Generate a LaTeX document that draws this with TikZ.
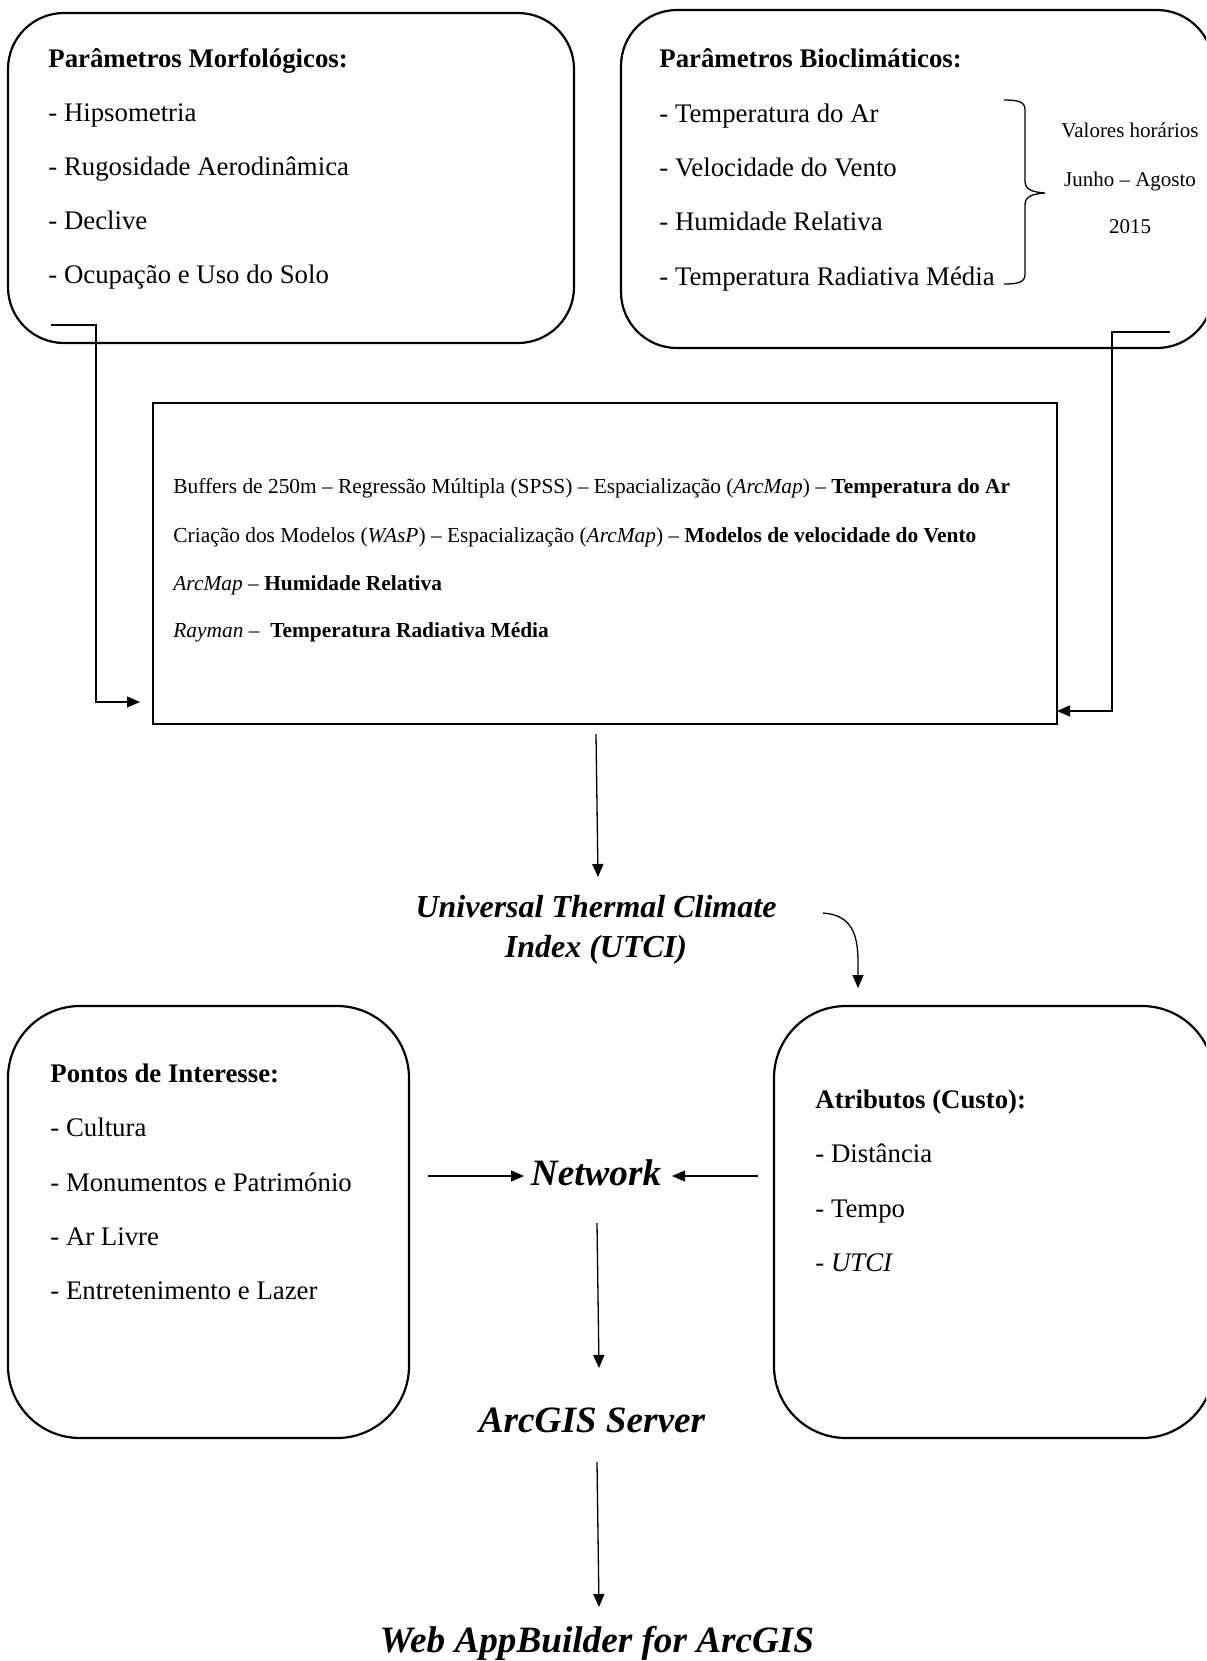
\documentclass[tikz,border=0pt]{standalone}
\usepackage{fontspec}
\setmainfont{Liberation Serif}
\usetikzlibrary{arrows.meta}
\begin{document}
\begin{tikzpicture}[x=0.5pt,y=-0.5pt,
  rbox/.style={draw,line width=1.1pt,inner sep=0pt,outer sep=0pt,rounded corners=28pt},
  bbox/.style={rbox,rounded corners=36pt},
  sbox/.style={draw,line width=1.3pt,inner sep=0pt,outer sep=0pt},
  body/.style={anchor=base west,inner sep=0pt,font=\fontsize{13.4}{16}\selectfont},
  head/.style={anchor=base west,inner sep=0pt,font=\fontsize{13.4}{16}\selectfont\bfseries},
  small/.style={anchor=base west,inner sep=0pt,font=\fontsize{10.7}{13}\selectfont},
  note/.style={anchor=base,inner sep=0pt,font=\fontsize{10.5}{13}\selectfont},
  mid/.style={anchor=base,inner sep=0pt,font=\fontsize{16}{19}\selectfont\bfseries\itshape},
  big/.style={anchor=base,inner sep=0pt,font=\fontsize{18.6}{22}\selectfont\bfseries\itshape},
  conn/.style={line width=0.65pt},
  arr/.style={line width=0.65pt,-{Triangle[length=6.5pt,width=5.5pt]}}]
\useasboundingbox (0,0) rectangle (1206,1661);
\begin{scope}
\clip (0,0) rectangle (1206,1661);
% boxes
\node[rbox,minimum width=283pt,minimum height=165pt] (morf) at (291,178) {};
\node[rbox,minimum width=296pt,minimum height=169pt] (bio) at (917,179) {};
\node[sbox,minimum width=452pt,minimum height=160.5pt] (proc) at (605,563.5) {};
\node[bbox,minimum width=200.5pt,minimum height=216pt] (poi) at (208.5,1222) {};
\node[bbox,minimum width=220pt,minimum height=216pt] (attr) at (994,1222) {};
\end{scope}
% top-left text
\node[head] (m0) at (48,67) {Parâmetros Morfológicos:};
\node[body] (m1) at (48,121) {- Hipsometria};
\node[body] (m2) at (48,175) {- Rugosidade Aerodinâmica};
\node[body] (m3) at (48,229) {- Declive};
\node[body] (m4) at (48,283) {- Ocupação e Uso do Solo};
% top-right text
\node[head] (b0) at (659,67) {Parâmetros Bioclimáticos:};
\node[body] (b1) at (659,122) {- Temperatura do Ar};
\node[body] (b2) at (659,176) {- Velocidade do Vento};
\node[body] (b3) at (659,230) {- Humidade Relativa};
\node[body] (b4) at (659,285) {- Temperatura Radiativa Média};
\coordinate (brtop) at (1004,100);
\coordinate (brtip) at (1045,193);
\coordinate (brbot) at (1004,284);
\draw[conn] (brtop) .. controls (1019,100) and (1025,102) .. (1025,110) -- (1025,181)
  .. controls (1025,189) and (1031,192) .. (brtip)
  .. controls (1031,194) and (1025,197) .. (1025,205) -- (1025,274)
  .. controls (1025,282) and (1019,284) .. (brbot);
\node[note] (v1) at (1130,137) {Valores horários};
\node[note] (v2) at (1130,186) {Junho – Agosto};
\node[note] (v3) at (1130,233) {2015};
% middle box text
\node[small] (p1) at (173,493) {Buffers de 250m – Regressão Múltipla (SPSS) – Espacialização (\textit{ArcMap}) – \textbf{Temperatura do Ar}};
\node[small] (p2) at (173,542) {Criação dos Modelos (\textit{WAsP}) – Espacialização (\textit{ArcMap}) – \textbf{Modelos de velocidade do Vento}};
\node[small] (p3) at (173,590) {\textit{ArcMap} – \textbf{Humidade Relativa}};
\node[small] (p4) at (173,637) {\textit{Rayman} –\ \ \textbf{Temperatura Radiativa Média}};
% connectors into middle box
\coordinate (l1) at (51,325);
\coordinate (l2) at (96,325);
\coordinate (l3) at (140,702);
\draw[arr] (l1) -- (l2) |- (l3);
\coordinate (r1) at (1170,332);
\coordinate (r2) at (1112,332);
\coordinate (r3) at (1057,711);
\draw[arr] (r1) -- (r2) |- (r3);
% UTCI
\node[mid] (u1) at (596,917) {Universal Thermal Climate};
\node[mid] (u2) at (596,957) {Index (UTCI)};
\coordinate (d1) at (596,734);
\coordinate (d2) at (598,877);
\draw[arr] (d1) -- (d2);
\coordinate (c1) at (823,913);
\coordinate (c2) at (858,988);
\draw[arr] (c1) .. controls (852,915) and (858,935) .. (858,962) -- (c2);
% bottom-left text
\node[head] (i0) at (50,1082) {Pontos de Interesse:};
\node[body] (i1) at (50,1136) {- Cultura};
\node[body] (i2) at (50,1191) {- Monumentos e Património};
\node[body] (i3) at (50,1245) {- Ar Livre};
\node[body] (i4) at (50,1299) {- Entretenimento e Lazer};
% bottom-right text
\node[head] (a0) at (815,1108) {Atributos (Custo):};
\node[body] (a1) at (815,1162) {- Distância};
\node[body] (a2) at (815,1217) {- Tempo};
\node[body] (a3) at (815,1271) {- \textit{UTCI}};
% network
\node[big] (net) at (596,1185) {Network};
\coordinate (n1) at (428,1176);
\coordinate (n2) at (524,1176);
\coordinate (n3) at (758,1176);
\coordinate (n4) at (672,1176);
\draw[arr] (n1) -- (n2);
\draw[arr] (n3) -- (n4);
\coordinate (s1) at (597,1223);
\coordinate (s2) at (599,1368);
\draw[arr] (s1) -- (s2);
\node[big] (srv) at (592,1432) {ArcGIS Server};
\coordinate (w1) at (597,1462);
\coordinate (w2) at (599,1607);
\draw[arr] (w1) -- (w2);
\node[big] (web) at (597,1652) {Web AppBuilder for ArcGIS};
\end{tikzpicture}
\end{document}
